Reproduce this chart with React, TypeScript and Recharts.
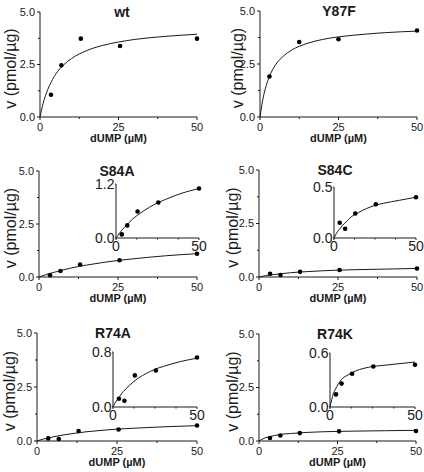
import { ComposedChart, Line, Scatter, XAxis, YAxis } from "recharts";

// dUMP concentrations (µM) of the measured points
const dumpConc = [3.5, 6.8, 13, 25.5, 50];
const y87fConc = [3, 12.5, 25, 50];
const fitConc = [0, 1, 2, 3, 5, 7.5, 10, 15, 20, 25, 30, 40, 50];

// measured rates, v (pmol/µg)
const wtRate = [1.06, 2.46, 3.73, 3.38, 3.73];
const y87fRate = [1.91, 3.54, 3.67, 4.08];
const s84aRate = [0.08, 0.28, 0.59, 0.79, 1.1];
const s84cRate = [0.15, 0.09, 0.24, 0.33, 0.4];
const r74aRate = [0.12, 0.09, 0.46, 0.53, 0.72];
const r74kRate = [0.14, 0.26, 0.37, 0.45, 0.47];

// fitted curves read at fitConc
const wtFit = [0, 0.65, 1.13, 1.49, 2.04, 2.48, 2.78, 3.17, 3.41, 3.57, 3.69, 3.84, 3.94];
const y87fFit = [0, 0.9, 1.49, 1.91, 2.47, 2.88, 3.15, 3.47, 3.66, 3.78, 3.86, 3.98, 4.05];
const s84aFit = [0, 0.05, 0.1, 0.15, 0.23, 0.33, 0.42, 0.56, 0.68, 0.78, 0.86, 1.0, 1.1];
const s84cFit = [0, 0.03, 0.06, 0.08, 0.12, 0.16, 0.2, 0.25, 0.29, 0.32, 0.34, 0.37, 0.4];
const r74aFit = [0, 0.05, 0.09, 0.12, 0.19, 0.26, 0.32, 0.42, 0.49, 0.55, 0.59, 0.66, 0.71];
const r74kFit = [0, 0.08, 0.15, 0.19, 0.26, 0.32, 0.35, 0.4, 0.43, 0.45, 0.46, 0.48, 0.5];

// axis ticks
const mainYTicks = [0, 1.25, 2.5, 3.75, 5];
const mainYLabels = [0, 2.5, 5];
const xTicks = [0, 12.5, 25, 37.5, 50];
const mainXLabels = [0, 25, 50];
const insetXLabels = [0, 50];
const s84aInsetMax = 1.2;
const s84cInsetMax = 0.5;
const r74aInsetMax = 0.8;
const r74kInsetMax = 0.6;

const ink = "#1a1a1a";
const font = "'Liberation Sans', Arial, sans-serif";

type Pt = { x: number; v: number };
const pts = (xs: number[], vs: number[]): Pt[] => xs.map((x, i) => ({ x, v: vs[i] }));

function yTick(labels: number[], fs: number, len: number, minorLen: number, gap: number, digits: number) {
  return (p: any) => {
    const major = labels.includes(p.payload.value);
    const l = major ? len : minorLen;
    return (
      <g>
        <line x1={p.x} x2={p.x - l} y1={p.y} y2={p.y} stroke={ink} strokeWidth={1} />
        {major && (
          <text x={p.x - l - gap} y={p.y} dy="0.36em" textAnchor="end" fontSize={fs} fill={ink} fontFamily={font}>
            {Number(p.payload.value).toFixed(digits)}
          </text>
        )}
      </g>
    );
  };
}

function xTick(labels: number[], fs: number, len: number, minorLen: number, base: number) {
  return (p: any) => {
    const major = labels.includes(p.payload.value);
    const l = major ? len : minorLen;
    return (
      <g>
        <line x1={p.x} x2={p.x} y1={p.y} y2={p.y + l} stroke={ink} strokeWidth={1} />
        {major && (
          <text x={p.x} y={p.y + base} textAnchor="middle" fontSize={fs} fill={ink} fontFamily={font}>
            {p.payload.value}
          </text>
        )}
      </g>
    );
  };
}

type Box = [number, number, number, number]; // left, top, right, bottom

function Dot(p: any) {
  return <circle cx={p.cx} cy={p.cy} r={2.3} fill="#000" />;
}

function MainPanel({ title, titleX, labelX, col, plot, points, fit }: {
  title: string; titleX: number; labelX: number; col: number; plot: Box; points: Pt[]; fit: Pt[];
}) {
  const [l, t, r, b] = plot;
  const w = r - col + 10;
  const h = b - t + 48;
  const ph = b - t;
  return (
    <>
      <div style={{ position: "absolute", left: col, top: t - 12, width: w, height: h }}>
        <ComposedChart width={w} height={h} margin={{ top: 12, right: 10, left: 0, bottom: 0 }}>
          <XAxis
            type="number"
            dataKey="x"
            domain={[0, 50]}
            ticks={xTicks}
            interval={0}
            height={36}
            tickSize={0}
            tickMargin={0}
            stroke={ink}
            tick={xTick(mainXLabels, 11, 3, 2, 14)}
            label={() => (
              <text x={l - col + (r - l) / 2} y={12 + ph + 25} textAnchor="middle" fontSize={11} fontWeight="bold" fill={ink} fontFamily={font}>
                dUMP (µM)
              </text>
            )}
          />
          <YAxis
            type="number"
            dataKey="v"
            domain={[0, 5]}
            ticks={mainYTicks}
            interval={0}
            width={l - col}
            tickSize={0}
            tickMargin={0}
            stroke={ink}
            tick={yTick(mainYLabels, 11, 3, 2, 2, 1)}
            label={() => {
              const cx = labelX - col;
              const cy = 12 + ph / 2 + 4;
              return (
                <text x={cx} y={cy} transform={`rotate(-90 ${cx} ${cy})`} dy="0.35em" textAnchor="middle" fontSize={16} fill={ink} fontFamily={font}>
                  v (pmol/µg)
                </text>
              );
            }}
          />
          <Line data={fit} dataKey="v" type="monotone" stroke={ink} strokeWidth={1} dot={false} activeDot={false} isAnimationActive={false} />
          <Scatter data={points} dataKey="v" shape={Dot} isAnimationActive={false} />
        </ComposedChart>
      </div>
      <div
        style={{
          position: "absolute", left: titleX - 40, width: 80, top: t - 7, textAlign: "center",
          fontFamily: font, fontWeight: "bold", fontSize: 14, lineHeight: "14px", color: ink,
        }}
      >
        {title}
      </div>
    </>
  );
}

function Inset({ plot, max, points, fit }: { plot: Box; max: number; points: Pt[]; fit: Pt[] }) {
  const [l, t, r, b] = plot;
  const w = r - l + 42;
  const h = b - t + 32;
  return (
    <div style={{ position: "absolute", left: l - 30, top: t - 10, width: w, height: h }}>
      <ComposedChart width={w} height={h} margin={{ top: 10, right: 12, left: 0, bottom: 0 }}>
        <XAxis
          type="number"
          dataKey="x"
          domain={[0, 50]}
          ticks={xTicks}
          interval={0}
          height={22}
          tickSize={0}
          tickMargin={0}
          stroke={ink}
          tick={xTick(insetXLabels, 14, 2, 1.5, 13)}
        />
        <YAxis
          type="number"
          dataKey="v"
          domain={[0, max]}
          ticks={[0, max]}
          interval={0}
          width={30}
          tickSize={0}
          tickMargin={0}
          stroke={ink}
          tick={yTick([0, max], 14, 1, 1, 0.5, 1)}
        />
        <Line data={fit} dataKey="v" type="monotone" stroke={ink} strokeWidth={1} dot={false} activeDot={false} isAnimationActive={false} />
        <Scatter data={points} dataKey="v" shape={Dot} isAnimationActive={false} />
      </ComposedChart>
    </div>
  );
}

export default function App() {
  const wt = { points: pts(dumpConc, wtRate), fit: pts(fitConc, wtFit) };
  const y87f = { points: pts(y87fConc, y87fRate), fit: pts(fitConc, y87fFit) };
  const s84a = { points: pts(dumpConc, s84aRate), fit: pts(fitConc, s84aFit) };
  const s84c = { points: pts(dumpConc, s84cRate), fit: pts(fitConc, s84cFit) };
  const r74a = { points: pts(dumpConc, r74aRate), fit: pts(fitConc, r74aFit) };
  const r74k = { points: pts(dumpConc, r74kRate), fit: pts(fitConc, r74kFit) };
  return (
    <div style={{ position: "absolute", left: 0, top: 0, width: 424, height: 472, background: "#fff", overflow: "hidden" }}>
      <MainPanel title="wt" titleX={122} labelX={10} col={0} plot={[40, 12, 197, 117]} {...wt} />
      <MainPanel title="Y87F" titleX={339} labelX={237} col={212} plot={[260, 11, 417, 117]} {...y87f} />
      <MainPanel title="S84A" titleX={117} labelX={10} col={0} plot={[39, 171, 197, 277]} {...s84a} />
      <MainPanel title="S84C" titleX={335} labelX={232} col={212} plot={[259, 170, 417, 277]} {...s84c} />
      <MainPanel title="R74A" titleX={113} labelX={9} col={0} plot={[37, 333, 197, 441]} {...r74a} />
      <MainPanel title="R74K" titleX={335} labelX={232} col={212} plot={[259, 334, 416, 441]} {...r74k} />
      <Inset plot={[116, 184, 199, 238]} max={s84aInsetMax} {...s84a} />
      <Inset plot={[334, 187, 416, 238]} max={s84cInsetMax} {...s84c} />
      <Inset plot={[113, 352, 197, 407]} max={r74aInsetMax} {...r74a} />
      <Inset plot={[330, 353, 415, 407]} max={r74kInsetMax} {...r74k} />
    </div>
  );
}
